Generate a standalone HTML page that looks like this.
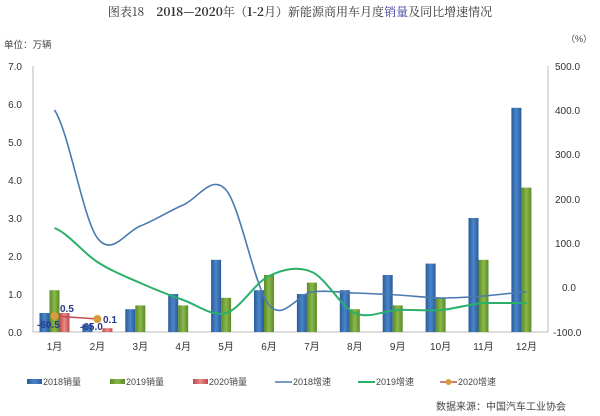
<!DOCTYPE html><html><head><meta charset="utf-8"><style>
body{margin:0;background:#fff;}
svg{display:block;font-family:"Liberation Sans","Noto Sans CJK SC",sans-serif;}
</style></head><body>
<svg width="600" height="416" viewBox="0 0 600 416">
<defs>
<linearGradient id="gb" x1="0" x2="1"><stop offset="0" stop-color="#2a5a9a"/><stop offset=".5" stop-color="#4a86c8"/><stop offset="1" stop-color="#2a5a9a"/></linearGradient>
<linearGradient id="gg" x1="0" x2="1"><stop offset="0" stop-color="#5a8a2a"/><stop offset=".5" stop-color="#8ab84a"/><stop offset="1" stop-color="#5a8a2a"/></linearGradient>
<linearGradient id="gr" x1="0" x2="1"><stop offset="0" stop-color="#c04848"/><stop offset=".5" stop-color="#e88a8a"/><stop offset="1" stop-color="#c04848"/></linearGradient>
</defs>
<text x="300" y="16" font-size="12" text-anchor="middle" fill="#333" font-family="'Noto Serif CJK SC',serif">图表18　<tspan font-weight="bold">2018—2020</tspan>年（<tspan font-weight="bold">1-2</tspan>月）新能源商用车月度<tspan fill="#3a3a9a">销量</tspan>及同比增速情况</text>
<text x="4" y="48" font-size="9.5" fill="#444">单位：万辆</text>
<text x="566" y="42" font-size="9" fill="#444">（%）</text>
<g font-size="10" fill="#333" text-anchor="end">
<text x="22" y="70">7.0</text><text x="22" y="108">6.0</text><text x="22" y="146">5.0</text><text x="22" y="184">4.0</text><text x="22" y="222">3.0</text><text x="22" y="260">2.0</text><text x="22" y="298">1.0</text><text x="22" y="336">0.0</text>
</g>
<g font-size="10" fill="#333">
<text x="555" y="70">500.0</text><text x="555" y="114">400.0</text><text x="555" y="158">300.0</text><text x="555" y="203">200.0</text><text x="555" y="247">100.0</text><text x="562" y="291">0.0</text><text x="553" y="336">-100.0</text>
</g>
<line x1="33" y1="66" x2="33" y2="332" stroke="#bbb"/>
<line x1="548" y1="66" x2="548" y2="332" stroke="#bbb"/>
<line x1="33" y1="332" x2="548" y2="332" stroke="#bbb"/>
<g fill="url(#gb)">
<rect x="39.5" y="313" width="10" height="19"/><rect x="82.4" y="324.4" width="10" height="7.6"/><rect x="125.3" y="309.2" width="10" height="22.8"/><rect x="168.2" y="294" width="10" height="38"/><rect x="211.1" y="259.8" width="10" height="72.2"/><rect x="254" y="290.2" width="10" height="41.8"/><rect x="296.9" y="294" width="10" height="38"/><rect x="339.8" y="290.2" width="10" height="41.8"/><rect x="382.7" y="275" width="10" height="57"/><rect x="425.6" y="263.6" width="10" height="68.4"/><rect x="468.5" y="218" width="10" height="114"/><rect x="511.4" y="107.8" width="10" height="224.2"/>
</g>
<g fill="url(#gg)">
<rect x="49.5" y="290.2" width="10" height="41.8"/><rect x="135.3" y="305.4" width="10" height="26.6"/><rect x="178.2" y="305.4" width="10" height="26.6"/><rect x="221.1" y="297.8" width="10" height="34.2"/><rect x="264" y="275" width="10" height="57"/><rect x="306.9" y="282.6" width="10" height="49.4"/><rect x="349.8" y="309.2" width="10" height="22.8"/><rect x="392.7" y="305.4" width="10" height="26.6"/><rect x="435.6" y="297.8" width="10" height="34.2"/><rect x="478.5" y="259.8" width="10" height="72.2"/><rect x="521.4" y="187.6" width="10" height="144.4"/>
</g>
<g fill="url(#gr)"><rect x="59.5" y="313" width="10" height="19"/><rect x="102.4" y="328.2" width="10" height="3.8"/></g>
<path fill="none" stroke="#4a7ab0" stroke-width="1.6" d="M54.5,110 C68.8,131.3 83.1,218.7 97.4,238 C111.7,257.3 126,231.5 140.3,226 C154.6,220.5 168.9,211 183.2,205 C197.5,199 211.8,173.3 226.1,190 C240.4,206.7 254.7,288 269,305 C283.3,322 297.6,294 311.9,292 C326.2,290 340.5,292.5 354.8,293 C369.1,293.5 383.4,294.2 397.7,295 C412,295.8 426.3,297.8 440.6,298 C454.9,298.2 469.2,297 483.5,296 C497.8,295 512.1,292.7 526.4,292"/>
<path fill="none" stroke="#2ab06a" stroke-width="2" d="M54.5,228 C68.8,233.7 83.1,252.8 97.4,262 C111.7,271.2 126,276.7 140.3,283 C154.6,289.3 168.9,295 183.2,300 C197.5,305 211.8,317 226.1,313 C240.4,309 254.7,282.8 269,276 C283.3,269.2 297.6,265.8 311.9,272 C326.2,278.2 340.5,306.7 354.8,313 C369.1,319.3 383.4,310.5 397.7,310 C412,309.5 426.3,311.2 440.6,310 C454.9,308.8 469.2,304.2 483.5,303 C497.8,303 512.1,303 526.4,303"/>
<line x1="54.5" y1="316" x2="97.4" y2="319" stroke="#c0504d" stroke-width="1.5"/>
<circle cx="54.5" cy="316" r="4" fill="#d89a3a"/><circle cx="97.4" cy="319" r="4" fill="#d89a3a"/>
<g font-size="10" font-weight="bold" fill="#2a3a8a">
<text x="60" y="312">0.5</text><text x="37" y="328">-60.5</text><text x="80" y="330">-65.0</text><text x="103" y="323">0.1</text>
</g>
<g font-size="10" fill="#333" text-anchor="middle">
<text x="54.5" y="350">1月</text><text x="97.4" y="350">2月</text><text x="140.3" y="350">3月</text><text x="183.2" y="350">4月</text><text x="226.1" y="350">5月</text><text x="269" y="350">6月</text><text x="311.9" y="350">7月</text><text x="354.8" y="350">8月</text><text x="397.7" y="350">9月</text><text x="440.6" y="350">10月</text><text x="483.5" y="350">11月</text><text x="526.4" y="350">12月</text>
</g>
<g font-size="9" fill="#444">
<rect x="27" y="379" width="15" height="5" fill="url(#gb)"/><text x="43" y="385">2018销量</text>
<rect x="110" y="379" width="15" height="5" fill="url(#gg)"/><text x="126" y="385">2019销量</text>
<rect x="193" y="379" width="15" height="5" fill="url(#gr)"/><text x="209" y="385">2020销量</text>
<line x1="275" y1="382" x2="292" y2="382" stroke="#4a7ab0" stroke-width="1.6"/><text x="293" y="385">2018增速</text>
<line x1="358" y1="382" x2="375" y2="382" stroke="#2ab06a" stroke-width="2"/><text x="376" y="385">2019增速</text>
<line x1="440" y1="382" x2="457" y2="382" stroke="#c0504d" stroke-width="1.5"/><circle cx="448.5" cy="382" r="3" fill="#d89a3a"/><text x="458" y="385">2020增速</text>
<text x="436" y="410" font-size="10">数据来源：中国汽车工业协会</text>
</g>
</svg></body></html>
